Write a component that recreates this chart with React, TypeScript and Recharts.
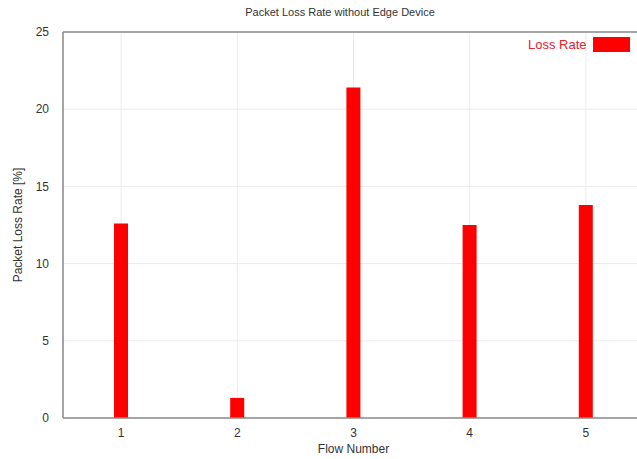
import { BarChart, Bar, XAxis, YAxis, CartesianGrid, ReferenceLine } from "recharts";

// values
const flows = [1, 2, 3, 4, 5];
const lossRate = [12.6, 1.3, 21.4, 12.5, 13.8];
const yTicks = [0, 5, 10, 15, 20, 25];

const data = flows.map((flow, i) => ({ flow, loss: lossRate[i] }));

const AXIS = "#8a8a8a";
const FONT = "'Liberation Sans', Arial, sans-serif";

export default function App() {
  return (
    <div style={{ position: "fixed", left: 0, top: 0, width: 637, height: 459, overflow: "hidden", background: "#fff" }}>
      <div style={{ position: "absolute", top: 6, left: 0, width: 680, textAlign: "center", fontFamily: FONT, fontSize: 11, color: "#333" }}>
        Packet Loss Rate without Edge Device
      </div>
      <div style={{ position: "absolute", top: 442, left: 63, width: 581, textAlign: "center", fontFamily: FONT, fontSize: 12, color: "#333" }}>
        Flow Number
      </div>
      <div style={{
        position: "absolute", left: 18, top: 225, transform: "translate(-50%, -50%) rotate(-90deg)",
        whiteSpace: "nowrap", fontFamily: FONT, fontSize: 12, color: "#333",
      }}>
        Packet Loss Rate [%]
      </div>
      <div style={{
        position: "absolute", top: 37, left: 528, display: "flex", alignItems: "center", gap: 6,
        fontFamily: FONT, fontSize: 13, color: "#e8202a", zIndex: 2,
      }}>
        <span>Loss Rate</span>
        <span style={{ width: 37, height: 15, background: "#ff0000", display: "inline-block" }} />
      </div>
      <BarChart width={660} height={459} data={data} margin={{ top: 32, right: 16, left: 0, bottom: 11 }}>
        <CartesianGrid stroke="#ebebeb" strokeWidth={1} />
        <XAxis
          dataKey="flow"
          type="number"
          domain={[0.5, 5.5]}
          ticks={flows}
          height={30}
          tick={{ fill: "#333", fontSize: 12, fontFamily: FONT }}
          tickLine={false}
          axisLine={{ stroke: AXIS, strokeWidth: 1.5 }}
          tickMargin={4}
        />
        <XAxis
          xAxisId="top"
          orientation="top"
          dataKey="flow"
          type="number"
          domain={[0.5, 5.5]}
          ticks={flows}
          height={0}
          mirror
          tickSize={4}
          tick={{ fill: "none" }}
          tickLine={{ stroke: AXIS }}
          axisLine={false}
        />
        <YAxis
          domain={[0, 25]}
          ticks={yTicks}
          width={63}
          tick={{ fill: "#333", fontSize: 12, fontFamily: FONT }}
          tickLine={false}
          axisLine={{ stroke: AXIS, strokeWidth: 1.5 }}
          tickMargin={8}
        />
        <ReferenceLine y={25} stroke={AXIS} strokeWidth={1.5} />
        <Bar dataKey="loss" name="Loss Rate" fill="#ff0000" barSize={14} isAnimationActive={false} />
      </BarChart>
    </div>
  );
}
